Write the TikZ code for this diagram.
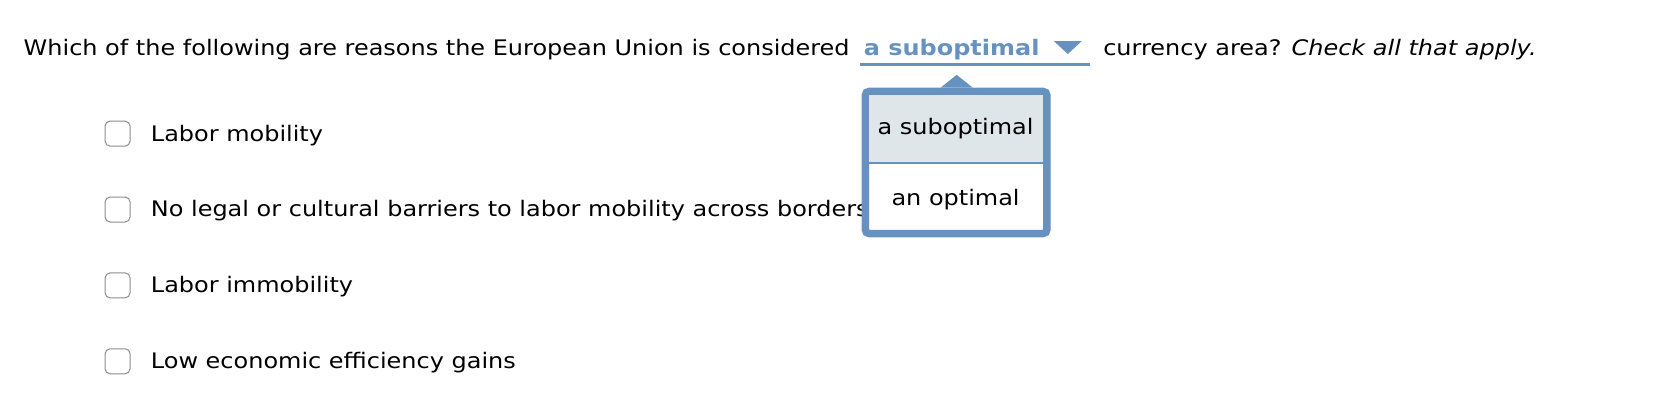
\documentclass[tikz,border=0pt]{standalone}
\usepackage{fontspec}
\setmainfont[FakeStretch=1.12]{DejaVu Sans}
\begin{document}
\begin{tikzpicture}[x=1.069pt,y=-1.069pt,
  txt/.style={anchor=base west,inner sep=0pt,font=\fontsize{21.4}{25}\selectfont},
  cbox/.style={draw=black!45,line width=1pt,rounded corners=5pt,minimum size=25pt,inner sep=0pt}]
\useasboundingbox (0,0) rectangle (1568,391);
\definecolor{ddblue}{RGB}{103,146,192}
\definecolor{selgray}{RGB}{223,230,234}
\node[txt] (q1) at (22,52) {Which of the following are reasons the European Union is considered};
\node[txt,text=ddblue,font=\fontsize{21.4}{25}\selectfont\bfseries] (sel) at (808,52) {a suboptimal};
\coordinate (tri) at (999,44);
\fill[ddblue] ([xshift=-14pt,yshift=6pt]tri) -- ([xshift=14pt,yshift=6pt]tri) -- ([yshift=-7pt]tri) -- cycle;
\draw[ddblue,line width=3pt] (805,60) -- (1020,60);
\node[txt] (q2) at (1032,52) {currency area? \textit{Check all that apply.}};
\foreach \y/\t/\n in {125/Labor mobility/a,196/No legal or cultural barriers to labor mobility across borders/b,267/Labor immobility/c,338/Low economic efficiency gains/d}{
  \node[cbox] (cb\n) at (110,\y) {};
  \node[txt] (t\n) at (141,\y+7) {\t};
}
% dropdown
\fill[ddblue] (880,82) -- (895,70) -- (910,82) -- cycle;
\draw[ddblue,line width=7.5pt,fill=white,rounded corners=4pt] (809.5,85.5) rectangle (979.5,218.5);
\fill[selgray] (813,89) rectangle (976,152);
\draw[ddblue,line width=1.5pt] (813,152.5) -- (976,152.5);
\node[anchor=base,inner sep=0pt,font=\fontsize{21.4}{25}\selectfont] (o1) at (894,126) {a suboptimal};
\node[anchor=base,inner sep=0pt,font=\fontsize{21.4}{25}\selectfont] (o2) at (894,192) {an optimal};
\end{tikzpicture}
\end{document}
